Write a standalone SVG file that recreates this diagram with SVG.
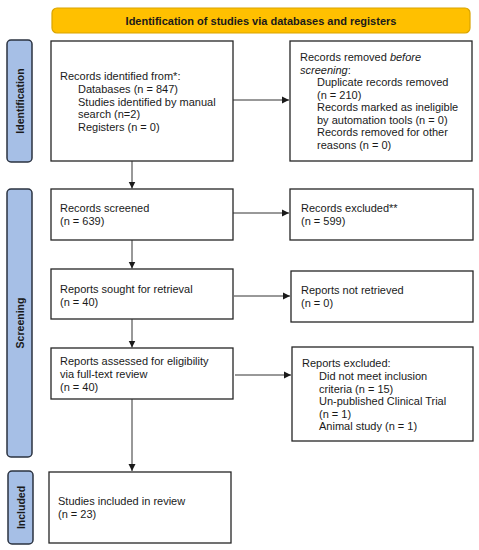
<svg xmlns="http://www.w3.org/2000/svg" width="479" height="550" viewBox="0 0 479 550">
<defs>
<style>
.box{fill:#fff;stroke:#262626;stroke-width:1.3}
.tab{fill:#A6BFE6;stroke:#2B3340;stroke-width:1.5}
.t{font-family:"Liberation Sans",Arial,sans-serif;font-size:11px;fill:#1a1a1a}
.tb{font-family:"Liberation Sans",Arial,sans-serif;font-size:11px;font-weight:bold;fill:#1a1a1a}
.tl{font-family:"Liberation Sans",Arial,sans-serif;font-size:10.5px;font-weight:bold;fill:#1a1a1a}
.c{stroke:#333;stroke-width:1;fill:none;marker-end:url(#ah)}
</style>
<marker id="ah" markerWidth="8" markerHeight="8" refX="7" refY="4" orient="auto" markerUnits="userSpaceOnUse">
<path d="M0,0.5 L7,4 L0,7.5 Z" fill="#1a1a1a"/>
</marker>
</defs>
<rect width="479" height="550" fill="#fff"/>
<g id="header">
<rect x="52" y="8" width="418" height="25" rx="5" fill="#FFC000" stroke="#D9A400" stroke-width="1.2"/>
<text class="tb" x="261" y="24.5" text-anchor="middle">Identification of studies via databases and registers</text>
</g>
<g id="tab-identification">
<rect class="tab" x="7" y="40" width="25" height="122" rx="4"/>
<text class="tl" transform="translate(23.5,101) rotate(-90)" text-anchor="middle">Identification</text>
</g>
<g id="tab-screening">
<rect class="tab" x="7" y="189" width="25" height="268" rx="4"/>
<text class="tl" transform="translate(23.5,323) rotate(-90)" text-anchor="middle">Screening</text>
</g>
<g id="tab-included">
<rect class="tab" x="8" y="471" width="25" height="73" rx="4"/>
<text class="tl" transform="translate(24.5,507.5) rotate(-90)" text-anchor="middle">Included</text>
</g>
<g id="n-identified">
<rect class="box" x="51" y="41" width="182" height="120"/>
<text class="t" x="60" y="80">Records identified from*:</text>
<text class="t" x="78" y="93">Databases (n = 847)</text>
<text class="t" x="78" y="105.5">Studies identified by manual</text>
<text class="t" x="78" y="118">search (n=2)</text>
<text class="t" x="78" y="130.5">Registers (n = 0)</text>
</g>
<g id="n-removed">
<rect class="box" x="290" y="41" width="182" height="120"/>
<text class="t" x="300" y="61">Records removed <tspan font-style="italic">before</tspan></text>
<text class="t" x="300" y="73.5"><tspan font-style="italic">screening</tspan>:</text>
<text class="t" x="317" y="86">Duplicate records removed</text>
<text class="t" x="317" y="98.5">(n = 210)</text>
<text class="t" x="317" y="111">Records marked as ineligible</text>
<text class="t" x="317" y="123.5">by automation tools (n = 0)</text>
<text class="t" x="317" y="136">Records removed for other</text>
<text class="t" x="317" y="148.5">reasons (n = 0)</text>
</g>
<g id="n-screened">
<rect class="box" x="51" y="189" width="182" height="51"/>
<text class="t" x="60" y="212">Records screened</text>
<text class="t" x="60" y="225">(n = 639)</text>
</g>
<g id="n-excluded">
<rect class="box" x="290" y="189" width="183" height="51"/>
<text class="t" x="301" y="212">Records excluded**</text>
<text class="t" x="301" y="225">(n = 599)</text>
</g>
<g id="n-sought">
<rect class="box" x="51" y="269" width="182" height="50"/>
<text class="t" x="60" y="293">Reports sought for retrieval</text>
<text class="t" x="60" y="306">(n = 40)</text>
</g>
<g id="n-notretrieved">
<rect class="box" x="291" y="271" width="182" height="51"/>
<text class="t" x="301" y="294">Reports not retrieved</text>
<text class="t" x="301" y="307">(n = 0)</text>
</g>
<g id="n-assessed">
<rect class="box" x="51" y="348" width="182" height="51"/>
<text class="t" x="60" y="365">Reports assessed for eligibility</text>
<text class="t" x="60" y="378">via full-text review</text>
<text class="t" x="60" y="391">(n = 40)</text>
</g>
<g id="n-reportsexcluded">
<rect class="box" x="292" y="347" width="181" height="94"/>
<text class="t" x="302" y="367">Reports excluded:</text>
<text class="t" x="319" y="380">Did not meet inclusion</text>
<text class="t" x="319" y="392.5">criteria (n = 15)</text>
<text class="t" x="319" y="405">Un-published Clinical Trial</text>
<text class="t" x="319" y="417.5">(n = 1)</text>
<text class="t" x="319" y="430">Animal study (n = 1)</text>
</g>
<g id="n-included">
<rect class="box" x="49" y="472" width="182" height="71"/>
<text class="t" x="58" y="505">Studies included in review</text>
<text class="t" x="58" y="518">(n = 23)</text>
</g>
<g id="connectors">
<line class="c" x1="233" y1="100" x2="289" y2="100"/>
<line class="c" x1="132" y1="161" x2="132" y2="188.5"/>
<line class="c" x1="233" y1="213" x2="289" y2="213"/>
<line class="c" x1="132" y1="240" x2="132" y2="268.5"/>
<line class="c" x1="234" y1="296" x2="290" y2="296"/>
<line class="c" x1="132" y1="319" x2="132" y2="347.5"/>
<line class="c" x1="235" y1="375" x2="291" y2="375"/>
<line class="c" x1="132" y1="399" x2="132" y2="471"/>
</g>
</svg>
